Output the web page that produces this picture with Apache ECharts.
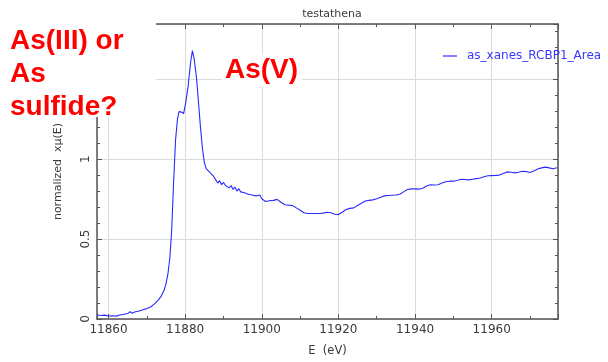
<!DOCTYPE html>
<html>
<head>
<meta charset="utf-8">
<script src="https://cdn.jsdelivr.net/npm/echarts@6/dist/echarts.min.js"></script>
<style>html,body{margin:0;padding:0;background:#fff}#c{width:608px;height:362px}</style>
</head>
<body>
<div id="c"></div>
<script>
const chartTitle = 'testathena';
const seriesName = 'as_xanes_RCBP1_Area';
const xName = 'E  (eV)';
const yName = 'normalized  xμ(E)';
const xRange = [11857, 11977.3];
const yRange = [0, 1.845];
const annotationLeft = ['As(III) or', 'As', 'sulfide?'];
const annotationRight = 'As(V)';

const energy = [
 11857,11858,11859,11860,11861,11862,11863,11864,11865,11865.6,11866.2,11867,11868,11869,11870,11871,11872,11873,11873.8,11874.5,
 11875,11875.5,11876,11876.5,11877,11877.5,11878,11878.4,11879,11879.6,11880.2,11880.8,11881.4,11881.9,11882.4,11883,11883.5,11884,11884.5,11885,
 11885.5,11886,11886.5,11887,11887.5,11888,11888.5,11889,11889.5,11890,11890.5,11891,11891.5,11892,11892.5,11893,11893.5,11894,11894.5,11895,
 11895.5,11896,11896.5,11897,11897.5,11898,11898.5,11899,11899.5,11900,11900.5,11901,11901.5,11902,11903,11904,11905,11906,11907,11908,
 11909,11910,11911,11912,11913,11914,11915,11916,11917,11918,11919,11920,11921,11922,11923,11924,11925,11926,11927,11928,
 11929,11930,11931,11932,11933,11934,11935,11936,11937,11938,11939,11940,11941,11942,11943,11944,11945,11946,11947,11948,
 11949,11950,11951,11952,11953,11954,11955,11956,11957,11958,11959,11960,11961,11962,11963,11964,11965,11966,11967,11968,
 11969,11970,11971,11972,11973,11974,11975,11976,11977
];
const mu = [
 0.025,0.022,0.024,0.019,0.020,0.018,0.025,0.030,0.034,0.045,0.036,0.045,0.050,0.058,0.065,0.075,0.095,0.118,0.145,0.180,
 0.220,0.280,0.380,0.560,0.860,1.120,1.250,1.297,1.295,1.285,1.360,1.460,1.600,1.679,1.620,1.500,1.350,1.200,1.070,0.980,
 0.940,0.930,0.915,0.910,0.890,0.870,0.850,0.865,0.840,0.855,0.835,0.845,0.820,0.835,0.810,0.825,0.800,0.815,0.795,0.805,
 0.790,0.795,0.780,0.785,0.775,0.780,0.770,0.765,0.775,0.752,0.755,0.735,0.745,0.740,0.742,0.748,0.730,0.715,0.712,0.710,
 0.695,0.680,0.665,0.660,0.660,0.660,0.660,0.662,0.668,0.665,0.655,0.653,0.668,0.685,0.692,0.695,0.710,0.724,0.738,0.742,
 0.745,0.752,0.762,0.770,0.772,0.774,0.776,0.780,0.795,0.810,0.814,0.814,0.812,0.818,0.832,0.840,0.838,0.840,0.850,0.858,
 0.862,0.862,0.866,0.874,0.872,0.870,0.874,0.878,0.882,0.890,0.896,0.897,0.898,0.900,0.910,0.920,0.918,0.914,0.918,0.924,
 0.922,0.916,0.925,0.938,0.945,0.950,0.945,0.940,0.946
];

const data = energy.map((e, i) => [e, mu[i]]);
const font = 'DejaVu Sans';
const axisCol = '#555';
const txtCol = '#3a3a3a';

const chart = echarts.init(document.getElementById('c'), null, {renderer: 'canvas'});
const baseAxis = {
  axisLine: {show: true, onZero: false, lineStyle: {color: axisCol, width: 1.5}},
  axisTick: {show: true, inside: true, length: 5, lineStyle: {color: axisCol, width: 1}},
  minorTick: {show: true, length: 3, lineStyle: {color: axisCol, width: 1}},
  splitLine: {show: false},
  minorSplitLine: {show: false}
};
chart.setOption({
  animation: false,
  backgroundColor: '#fff',
  title: {text: chartTitle, left: 327, textAlign: 'center', top: 4,
    textStyle: {fontFamily: font, fontSize: 11, fontWeight: 'normal', color: txtCol}},
  legend: {left: 443, top: 50, padding: 0, icon: 'rect', itemWidth: 14, itemHeight: 1.2,
    data: [seriesName],
    textStyle: {fontFamily: font, fontSize: 12, color: '#3a3aff', padding: [0, 0, 0, 5]}},
  grid: {left: 97, right: 50, top: 24, bottom: 40},
  xAxis: [
    Object.assign({}, baseAxis, {
      type: 'value', position: 'bottom', min: xRange[0], max: xRange[1],
      minInterval: 20, maxInterval: 20, splitNumber: 6,
      minorTick: Object.assign({}, baseAxis.minorTick, {splitNumber: 2}),
      splitLine: {show: true, lineStyle: {color: '#dcdcdc', width: 1}},
      axisLabel: {show: true, margin: 5, showMinLabel: false, showMaxLabel: false,
        formatter: v => String(v),
        fontFamily: font, fontSize: 12, color: txtCol},
      name: xName, nameLocation: 'middle', nameGap: 26,
      nameTextStyle: {fontFamily: font, fontSize: 11.5, color: txtCol}
    }),
    Object.assign({}, baseAxis, {
      type: 'value', position: 'top', min: xRange[0], max: xRange[1],
      minInterval: 20, maxInterval: 20, splitNumber: 6,
      minorTick: Object.assign({}, baseAxis.minorTick, {splitNumber: 2}),
      axisLabel: {show: false}
    })
  ],
  yAxis: [
    Object.assign({}, baseAxis, {
      type: 'value', position: 'left', min: yRange[0], max: yRange[1], interval: 0.5,
      minorTick: Object.assign({}, baseAxis.minorTick, {splitNumber: 5}),
      splitLine: {show: true, lineStyle: {color: '#dcdcdc', width: 1}},
      axisLabel: {show: true, rotate: 90, margin: 5, showMaxLabel: false,
        formatter: v => String(v),
        fontFamily: font, fontSize: 12, color: txtCol},
      name: yName, nameLocation: 'middle', nameGap: 33,
      nameTextStyle: {fontFamily: font, fontSize: 11, color: txtCol}
    }),
    Object.assign({}, baseAxis, {
      type: 'value', position: 'right', min: yRange[0], max: yRange[1], interval: 0.5,
      minorTick: Object.assign({}, baseAxis.minorTick, {splitNumber: 5}),
      axisLabel: {show: false}
    })
  ],
  series: [{
    name: seriesName, type: 'line', xAxisIndex: 0, yAxisIndex: 0, data: data,
    showSymbol: false, symbol: 'none', smooth: false,
    lineStyle: {color: '#2a2aff', width: 1.1}, itemStyle: {color: '#2a2aff'}
  }],
  graphic: {elements: [
    {type: 'rect', left: 0, top: 0, z: 100, shape: {width: 156, height: 117}, style: {fill: '#fff'}},
    {type: 'rect', left: 222, top: 55, z: 100, shape: {width: 80, height: 31}, style: {fill: '#fff'}},
    {type: 'text', left: 10, top: 27, z: 101, style: {text: annotationLeft[0], fill: '#ff0000', font: 'bold 28px "Liberation Sans", Arial, sans-serif'}},
    {type: 'text', left: 10, top: 60, z: 101, style: {text: annotationLeft[1], fill: '#ff0000', font: 'bold 28px "Liberation Sans", Arial, sans-serif'}},
    {type: 'text', left: 10, top: 93, z: 101, style: {text: annotationLeft[2], fill: '#ff0000', font: 'bold 28px "Liberation Sans", Arial, sans-serif'}},
    {type: 'text', left: 225, top: 56, z: 101, style: {text: annotationRight, fill: '#ff0000', font: 'bold 28px "Liberation Sans", Arial, sans-serif'}}
  ]}
});
</script>
</body>
</html>
